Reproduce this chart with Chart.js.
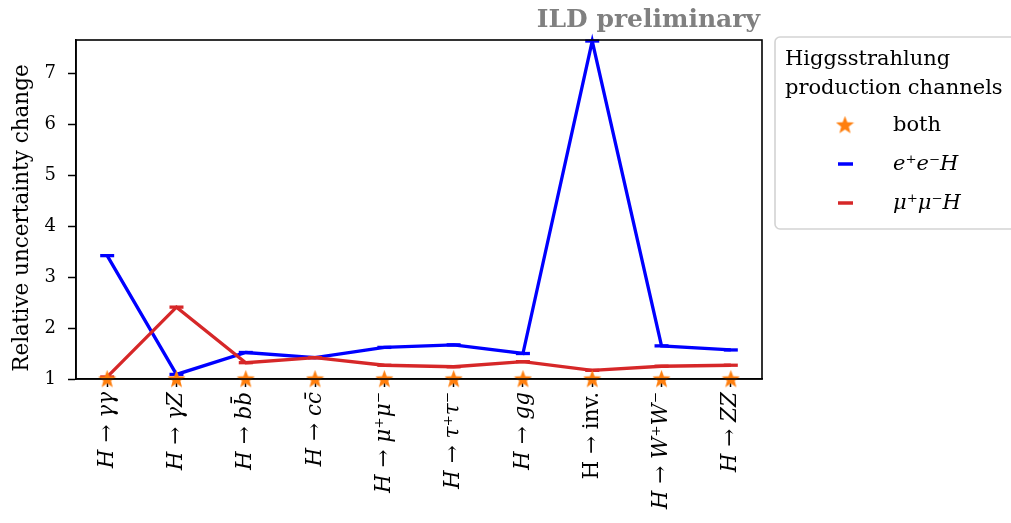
<!DOCTYPE html>
<html lang="en">
<head>
<meta charset="UTF-8">
<title>Higgsstrahlung production channels</title>
<script src="https://cdn.jsdelivr.net/npm/chart.js"></script>
<style>
  body { margin: 0; background: #fff; }
</style>
</head>
<body>
<canvas id="myChart" width="1011" height="523"></canvas>
<script>
// decay channels along the x axis
const channels = ['H → γγ', 'H → γZ', 'H → bb̄', 'H → cc̄', 'H → μ⁺μ⁻', 'H → τ⁺τ⁻', 'H → gg', 'H → inv.', 'H → W⁺W⁻', 'H → ZZ'];
// relative uncertainty change per production channel
const bothChannels = [1, 1, 1, 1, 1, 1, 1, 1, 1, 1];
const eeH = [3.42, 1.09, 1.52, 1.42, 1.62, 1.67, 1.50, 7.63, 1.65, 1.57];
const mumuH = [1.04, 2.41, 1.32, 1.42, 1.27, 1.24, 1.34, 1.17, 1.25, 1.27];
const yTicks = [1, 2, 3, 4, 5, 6, 7];

const SERIF = "'DejaVu Serif', 'Liberation Serif', serif";
const ORANGE = '#ff7f0e';
const BLUE = '#0000ff';
const RED = '#d62728';

// filled five point star used as marker
function makeStar(size, color) {
    const c = document.createElement('canvas');
    c.width = size; c.height = size;
    const g = c.getContext('2d');
    const R = size / 2, r = R * 0.42;
    g.beginPath();
    for (let i = 0; i < 10; i++) {
        const rad = i % 2 === 0 ? R : r;
        const a = -Math.PI / 2 + i * Math.PI / 5;
        const px = R + rad * Math.cos(a), py = R + 0.5 + rad * Math.sin(a);
        if (i === 0) g.moveTo(px, py); else g.lineTo(px, py);
    }
    g.closePath();
    g.fillStyle = color;
    g.fill();
    return c;
}
const star = makeStar(19, ORANGE);

const toXY = arr => arr.map((v, i) => ({ x: i, y: v }));

// frame around the plot area (all four spines)
const frame = {
    id: 'frame',
    afterDatasetsDraw(chart) {
        const { ctx, chartArea: a } = chart;
        ctx.save();
        ctx.strokeStyle = '#000';
        ctx.lineWidth = 1.6;
        ctx.strokeRect(a.left, a.top, a.right - a.left, a.bottom - a.top);
        ctx.restore();
    }
};

// axis title, "ILD preliminary" tag and the boxed legend on the right
const annotations = {
    id: 'annotations',
    afterDraw(chart) {
        const { ctx, chartArea: a } = chart;
        ctx.save();

        ctx.save();
        ctx.translate(22, 218);
        ctx.rotate(-Math.PI / 2);
        ctx.fillStyle = '#000';
        ctx.font = '21.5px ' + SERIF;
        ctx.textAlign = 'center';
        ctx.textBaseline = 'middle';
        ctx.fillText('Relative uncertainty change', 0, 0);
        ctx.restore();

        ctx.fillStyle = '#808080';
        ctx.font = 'bold 25px ' + SERIF;
        ctx.textAlign = 'right';
        ctx.textBaseline = 'alphabetic';
        ctx.fillText('ILD preliminary', a.right - 2, 27, 232);

        const bx = 775, by = 37;
        ctx.beginPath();
        ctx.roundRect(bx, by, 260, 192, 5);
        ctx.strokeStyle = '#d3d3d3';
        ctx.lineWidth = 1.6;
        ctx.stroke();

        ctx.fillStyle = '#000';
        ctx.textAlign = 'left';
        ctx.font = '21px ' + SERIF;
        ctx.fillText('Higgsstrahlung', 785, 65);
        ctx.fillText('production channels', 785, 94);

        const rows = [125, 164, 203];
        chart.data.datasets.forEach((ds, i) => {
            const y = rows[i];
            if (ds.pointStyle === star) {
                ctx.drawImage(star, 845 - star.width / 2, y - star.height / 2);
            } else {
                ctx.beginPath();
                ctx.moveTo(838, y);
                ctx.lineTo(853, y);
                ctx.strokeStyle = ds.borderColor;
                ctx.lineWidth = 3.5;
                ctx.stroke();
            }
            ctx.fillStyle = '#000';
            ctx.font = (i === 0 ? '' : 'italic ') + '21px ' + SERIF;
            ctx.textBaseline = 'middle';
            ctx.fillText(ds.label, 893, y + 1);
        });
        ctx.restore();
    }
};

const ctx = document.getElementById('myChart').getContext('2d');
new Chart(ctx, {
    type: 'line',
    data: {
        datasets: [
            {
                label: 'both',
                data: toXY(bothChannels),
                showLine: false,
                pointStyle: star,
                order: 0,
                clip: false
            },
            {
                label: 'e⁺e⁻H',
                data: toXY(eeH),
                borderColor: BLUE,
                backgroundColor: BLUE,
                borderWidth: 3.3,
                pointStyle: 'line',
                pointRadius: 7,
                pointBorderWidth: 3.3,
                pointBorderColor: BLUE,
                order: 2,
                clip: false
            },
            {
                label: 'μ⁺μ⁻H',
                data: toXY(mumuH),
                borderColor: RED,
                backgroundColor: RED,
                borderWidth: 3.3,
                pointStyle: 'line',
                pointRadius: 7,
                pointBorderWidth: 3.3,
                pointBorderColor: RED,
                order: 1,
                clip: false
            }
        ]
    },
    options: {
        responsive: false,
        animation: false,
        events: [],
        layout: { padding: { left: 0, right: 249, top: 40, bottom: 0 } },
        plugins: { legend: { display: false }, tooltip: { enabled: false } },
        scales: {
            x: {
                type: 'linear',
                min: -0.45,
                max: 9.45,
                afterBuildTicks: s => { s.ticks = channels.map((_, i) => ({ value: i })); },
                afterFit: s => { s.height = 144; },
                grid: { drawOnChartArea: false, color: '#000', tickLength: 8, tickWidth: 1.5 },
                border: { color: '#000', width: 1.6 },
                ticks: {
                    autoSkip: false,
                    minRotation: 90,
                    maxRotation: 90,
                    padding: 5,
                    color: '#000',
                    callback: v => channels[v],
                    font: c => ({ family: SERIF, size: 21.5, style: c.index === 7 ? 'normal' : 'italic' })
                }
            },
            y: {
                min: 1,
                max: 7.65,
                afterBuildTicks: s => { s.ticks = yTicks.map(v => ({ value: v })); },
                afterFit: s => { s.width = 76; },
                grid: { drawOnChartArea: false, color: '#000', tickLength: 8, tickWidth: 1.5 },
                border: { color: '#000', width: 1.6 },
                ticks: {
                    color: '#000',
                    padding: 12,
                    font: { family: SERIF, size: 18 }
                }
            }
        }
    },
    plugins: [frame, annotations]
});
</script>
</body>
</html>
